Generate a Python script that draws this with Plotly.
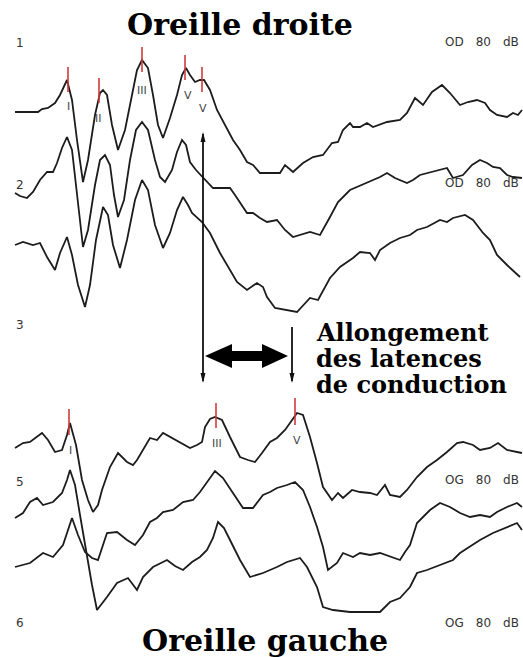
import plotly.graph_objects as go

# ---------------- data (pixel-like units) ----------------
# Right ear (Oreille droite) traces 1-3
t1_x = [15, 30, 38, 42, 48, 55, 60, 67, 72, 77, 83, 88, 95, 100, 103, 107, 112, 118, 125, 132, 137, 142, 148, 153, 158, 163,
        170, 177, 182, 186, 190, 195, 200, 204, 210, 217, 225, 233, 240, 247, 253, 260, 270, 280, 285, 293, 303, 313, 323, 332,
        338, 343, 350, 353, 360, 367, 373, 387, 400, 407, 415, 423, 432, 442, 450, 460, 468, 477, 485, 490, 497, 507, 513, 518, 522]
t1_y = [112, 112, 112, 109, 108, 103, 95, 80, 100, 140, 182, 160, 115, 93, 90, 95, 125, 150, 130, 95, 70, 60, 68, 95, 125, 138,
        118, 95, 75, 68, 75, 82, 80, 80, 90, 110, 125, 140, 150, 162, 165, 173, 173, 173, 165, 172, 163, 157, 155, 143,
        142, 130, 123, 127, 127, 123, 127, 122, 120, 113, 98, 105, 92, 85, 93, 105, 102, 100, 103, 110, 115, 117, 113, 115, 110]

t2_x = [15, 20, 27, 33, 40, 47, 53, 57, 62, 67, 72, 77, 83, 88, 95, 100, 105, 110, 114, 118, 124, 130, 136, 142, 148, 155,
        160, 165, 172, 177, 182, 186, 190, 196, 203, 213, 220, 230, 235, 240, 247, 253, 260, 267, 277, 285, 293, 310, 320,
        330, 338, 350, 367, 380, 387, 395, 407, 413, 420, 433, 447, 453, 463, 472, 480, 487, 493, 500, 507, 513, 522]
t2_y = [193, 196, 198, 192, 180, 172, 172, 163, 148, 137, 150, 195, 247, 230, 185, 160, 155, 165, 195, 217, 200, 160, 130, 122,
        130, 160, 177, 182, 170, 152, 140, 145, 162, 170, 177, 188, 188, 188, 195, 202, 213, 213, 218, 222, 220, 230, 237, 232,
        235, 217, 202, 190, 183, 177, 173, 178, 183, 180, 175, 172, 168, 178, 175, 165, 160, 163, 167, 168, 175, 177, 178]

t3_x = [15, 23, 33, 40, 47, 55, 60, 67, 72, 78, 85, 90, 96, 103, 108, 113, 120, 127, 135, 142, 148, 155, 163, 170, 177, 183,
        188, 192, 202, 210, 220, 230, 237, 247, 257, 263, 267, 275, 287, 297, 310, 318, 330, 340, 353, 360, 370, 375, 380,
        390, 400, 410, 417, 427, 440, 447, 453, 465, 473, 483, 490, 497, 507, 520]
t3_y = [245, 242, 245, 243, 257, 270, 253, 237, 255, 285, 307, 285, 240, 207, 215, 245, 268, 240, 200, 180, 190, 225, 248, 233,
        210, 197, 205, 213, 222, 233, 253, 270, 282, 290, 283, 287, 297, 308, 310, 312, 298, 300, 278, 267, 258, 252, 253,
        260, 250, 243, 238, 235, 230, 227, 220, 222, 218, 215, 220, 233, 240, 255, 265, 277]

# Left ear (Oreille gauche) traces 4-6
t4_x = [15, 23, 30, 42, 48, 55, 62, 67, 70, 76, 82, 88, 93, 98, 102, 110, 118, 127, 133, 137, 150, 157, 163, 170, 180, 190,
        197, 202, 205, 210, 215, 222, 230, 240, 248, 255, 262, 270, 277, 285, 290, 297, 303, 310, 317, 323, 332, 338, 343,
        352, 360, 370, 377, 385, 390, 400, 407, 417, 427, 437, 447, 457, 463, 473, 480, 490, 498, 507, 517, 522]
t4_y = [448, 443, 442, 433, 440, 452, 450, 435, 423, 445, 480, 500, 512, 505, 490, 467, 453, 462, 465, 460, 438, 440, 433, 437,
        443, 448, 445, 442, 427, 419, 417, 420, 437, 457, 460, 462, 453, 442, 438, 430, 423, 413, 415, 437, 463, 487, 500,
        493, 498, 490, 492, 493, 495, 485, 495, 497, 490, 477, 467, 460, 452, 443, 442, 445, 450, 448, 443, 450, 452, 453]

t5_x = [15, 23, 30, 37, 43, 53, 62, 67, 70, 75, 80, 85, 92, 97, 102, 107, 117, 128, 137, 143, 153, 167, 175, 183, 192, 200,
        207, 213, 218, 224, 230, 240, 250, 263, 277, 287, 300, 307, 317, 323, 333, 350, 367, 380, 390, 400, 410, 417, 427,
        440, 453, 460, 473, 480, 493, 507, 517, 522]
t5_y = [518, 513, 502, 498, 505, 502, 493, 480, 470, 485, 515, 545, 585, 610, 604, 597, 583, 578, 590, 577, 567, 560, 566, 570,
        562, 557, 550, 538, 522, 528, 540, 560, 577, 573, 567, 562, 558, 567, 587, 607, 610, 612, 612, 612, 602, 598, 587,
        573, 570, 565, 560, 553, 545, 540, 533, 527, 523, 530]

t6_x = [15, 23, 30, 43, 53, 63, 68, 72, 78, 85, 92, 98, 103, 107, 117, 127, 135, 143, 150, 157, 163, 173, 183, 193, 200, 207,
        215, 223, 233, 243, 253, 263, 270, 277, 287, 295, 303, 310, 317, 323, 328, 337, 343, 353, 360, 370, 380, 393, 400,
        405, 410, 417, 430, 440, 450, 460, 470, 480, 490, 497, 507, 517, 522]
t6_y = [567, 565, 563, 553, 557, 545, 530, 518, 535, 552, 558, 560, 545, 533, 532, 540, 545, 535, 522, 518, 512, 510, 502, 500,
        492, 482, 471, 478, 493, 508, 508, 495, 492, 488, 485, 482, 490, 507, 527, 547, 570, 563, 553, 557, 553, 555, 553,
        558, 560, 552, 545, 523, 510, 503, 507, 513, 517, 515, 517, 512, 507, 503, 507]

# Peak marker positions (x, top, bottom) and wave labels
right_peaks_x = [68, 99, 142, 185, 202]
right_peaks_top = [67, 78, 47, 55, 67]
right_peaks_bot = [92, 103, 72, 80, 92]
right_wave_labels = ["I", "II", "III", "V", "V"]
right_label_x = [68, 98, 142, 188, 203]
right_label_y = [106, 118, 90, 95, 108]

left_peaks_x = [69, 216, 295]
left_peaks_top = [409, 403, 398]
left_peaks_bot = [435, 428, 425]
left_wave_labels = ["I", "III", "V"]
left_label_x = [70, 217, 297]
left_label_y = [450, 443, 440]

trace_numbers = ["1", "2", "3", "5", "6"]
trace_number_y = [43, 185, 325, 482, 623]
level_labels = ["OD 80 dB", "OD 80 dB", "OG 80 dB", "OG 80 dB"]
level_label_y = [42, 183, 480, 623]

# ---------------- figure ----------------
W, H = 523, 657

fig = go.Figure()
LINE = dict(color="#1c1c1c", width=1.8)
for xs, ys in [(t1_x, t1_y), (t2_x, t2_y), (t3_x, t3_y), (t4_x, t4_y), (t5_x, t5_y), (t6_x, t6_y)]:
    fig.add_trace(go.Scatter(x=xs, y=ys, mode="lines", line=LINE, hoverinfo="skip", showlegend=False))

shapes = []
RED = "#d03a3a"
for x, t, b in zip(right_peaks_x + left_peaks_x, right_peaks_top + left_peaks_top, right_peaks_bot + left_peaks_bot):
    shapes.append(dict(type="line", x0=x, x1=x, y0=t, y1=b, line=dict(color=RED, width=1.6)))

# vertical latency lines
shapes.append(dict(type="line", x0=203, x1=203, y0=134, y1=381, line=dict(color="#111", width=1.8)))
shapes.append(dict(type="line", x0=292, x1=292, y0=327, y1=381, line=dict(color="#111", width=1.8)))
# small arrow tips
shapes.append(dict(type="path", path="M 200.5 142 L 203 132 L 205.5 142 Z", fillcolor="#111", line=dict(width=0)))
shapes.append(dict(type="path", path="M 200.5 373 L 203 383 L 205.5 373 Z", fillcolor="#111", line=dict(width=0)))
shapes.append(dict(type="path", path="M 289.5 373 L 292 383 L 294.5 373 Z", fillcolor="#111", line=dict(width=0)))
# thick double-headed arrow
shapes.append(dict(type="path",
                   path="M 205 356 L 232 344 L 232 351 L 262 351 L 262 344 L 288 356 L 262 368 L 262 361 L 232 361 L 232 368 Z",
                   fillcolor="#000", line=dict(width=0)))

annotations = []
SERIF = "DejaVu Serif"
annotations.append(dict(x=240, y=24, text="<b>Oreille droite</b>", showarrow=False,
                        font=dict(family=SERIF, size=30, color="#000"), xanchor="center", yanchor="middle"))
annotations.append(dict(x=265, y=640, text="<b>Oreille gauche</b>", showarrow=False,
                        font=dict(family=SERIF, size=30, color="#000"), xanchor="center", yanchor="middle"))
for txt, yy in [("Allongement", 332), ("des latences", 358), ("de conduction", 384)]:
    annotations.append(dict(x=314, y=yy, text="<b>" + txt + "</b>", showarrow=False,
                            font=dict(family=SERIF, size=24, color="#000"), xanchor="left", yanchor="middle"))

SANS = "DejaVu Sans"
for n, yy in zip(trace_numbers, trace_number_y):
    annotations.append(dict(x=14, y=yy, text=n, showarrow=False, font=dict(family=SANS, size=12, color="#333"),
                            xanchor="left", yanchor="middle"))
for t, yy in zip(level_labels, level_label_y):
    annotations.append(dict(x=521, y=yy, text=t.replace(" ", "\u2003"), showarrow=False,
                            font=dict(family=SANS, size=12, color="#333"), xanchor="right", yanchor="middle"))
for t, xx, yy in zip(right_wave_labels + left_wave_labels, right_label_x + left_label_x, right_label_y + left_label_y):
    annotations.append(dict(x=xx, y=yy, text=t, showarrow=False, font=dict(family=SANS, size=11, color="#444"),
                            xanchor="center", yanchor="middle"))

fig.update_layout(
    width=W, height=H, margin=dict(l=0, r=0, t=0, b=0, pad=0),
    paper_bgcolor="white", plot_bgcolor="white",
    xaxis=dict(range=[0, W], visible=False, fixedrange=True),
    yaxis=dict(range=[H, 0], visible=False, fixedrange=True),
    shapes=shapes, annotations=annotations, showlegend=False,
)
fig.write_html("out.html", config={"displayModeBar": False},
               post_script="document.body.style.margin='0';document.body.style.overflow='hidden';")
